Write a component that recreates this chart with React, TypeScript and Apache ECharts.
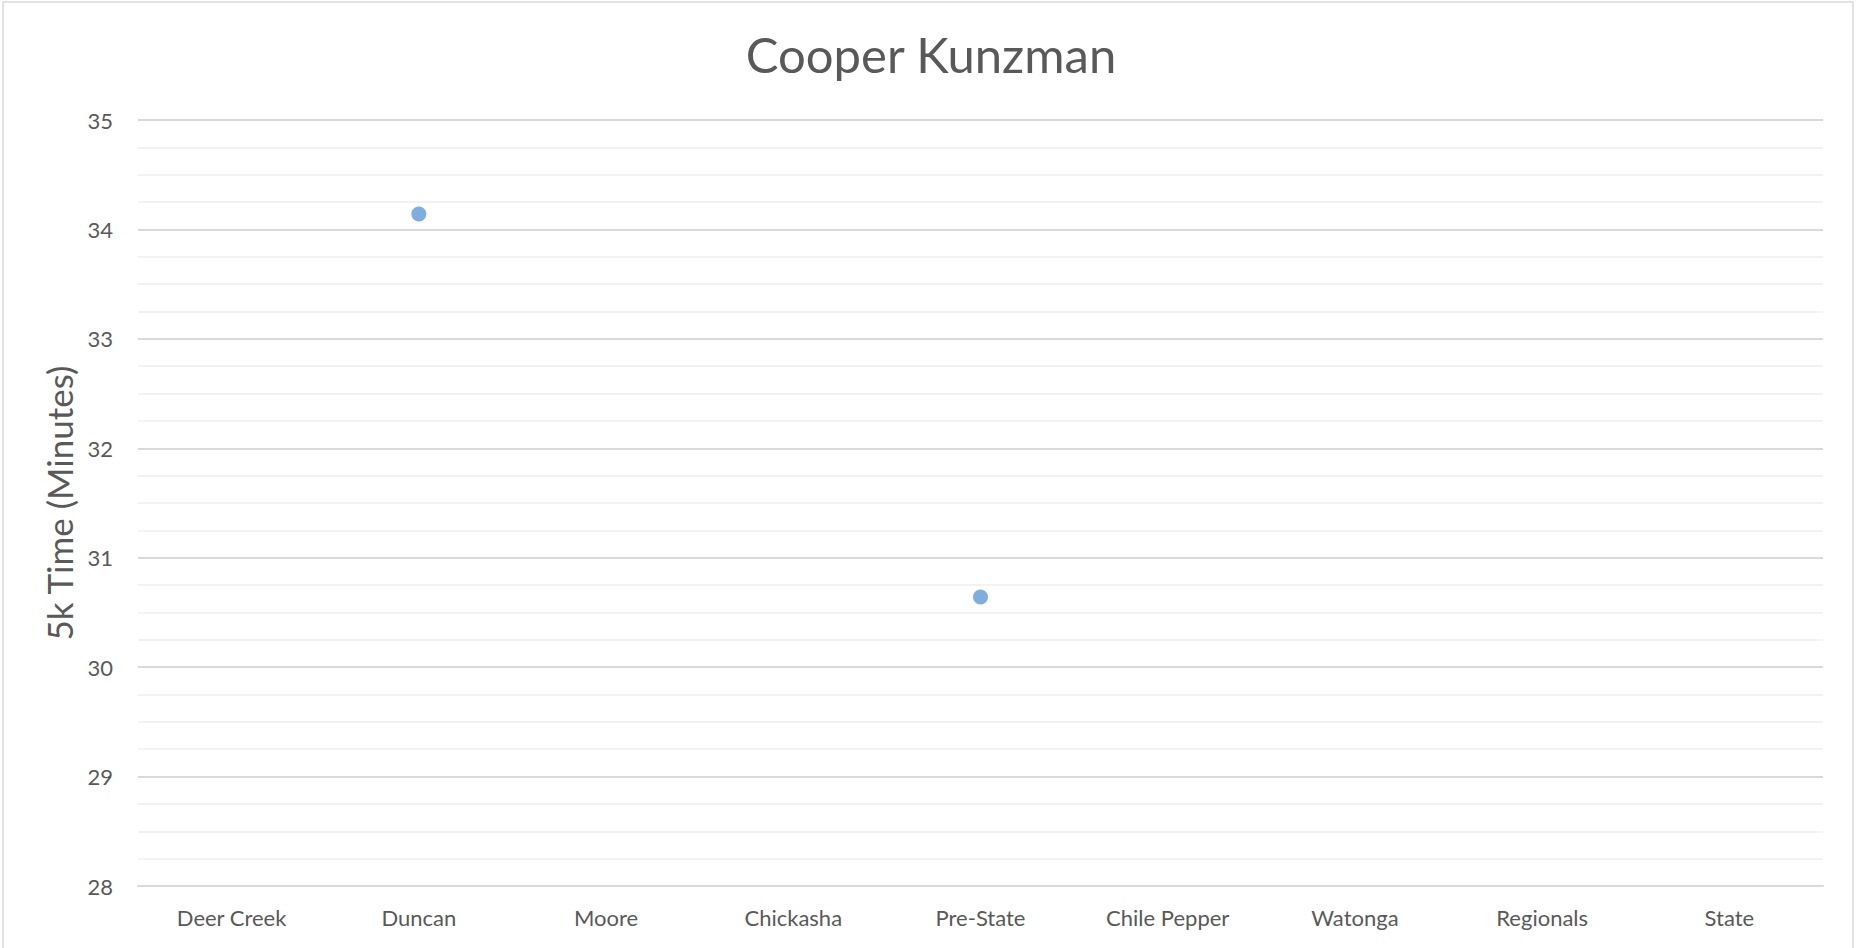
import React, { useEffect, useRef } from "react";
import * as echarts from "echarts";

const categories = ["Deer Creek", "Duncan", "Moore", "Chickasha", "Pre-State", "Chile Pepper", "Watonga", "Regionals", "State"];
const times: (number | null)[] = [null, 34.14, null, null, 30.64, null, null, null, null];
const chartTitle = "Cooper Kunzman";
const yAxisTitle = "5k Time (Minutes)";
const yMin = 28;
const yMax = 35;
const yStep = 1;

const FONT = "Lato, 'Open Sans', sans-serif";
const TEXT = "#595959";

export default function App() {
  const ref = useRef<HTMLDivElement>(null);
  useEffect(() => {
    if (!ref.current) return;
    const chart = echarts.init(ref.current, undefined, { renderer: "svg" });
    chart.setOption({
      animation: false,
      backgroundColor: "#ffffff",
      textStyle: { fontFamily: FONT },
      title: {
        text: chartTitle,
        left: "center",
        top: 24,
        textStyle: { fontFamily: FONT, fontSize: 49, fontWeight: "normal", color: TEXT },
      },
      graphic: [
        {
          type: "rect",
          shape: { x: 3, y: 2, width: 1850, height: 1000 },
          style: { fill: "none", stroke: "#D9D9D9", lineWidth: 1.5 },
          silent: true,
        },
      ],
      grid: { left: 138, right: 39, top: 120, bottom: 62 },
      xAxis: {
        type: "category",
        data: categories,
        boundaryGap: true,
        axisLine: { show: true, lineStyle: { color: "#D9D9D9", width: 2 } },
        axisTick: { show: false },
        axisLabel: { color: TEXT, fontSize: 22, fontFamily: FONT, margin: 20, interval: 0 },
        splitLine: { show: false },
      },
      yAxis: {
        type: "value",
        min: yMin,
        max: yMax,
        interval: yStep,
        name: yAxisTitle,
        nameLocation: "middle",
        nameGap: 60,
        nameTextStyle: { color: TEXT, fontSize: 35, fontFamily: FONT },
        axisLine: { show: false },
        axisTick: { show: false },
        axisLabel: { color: TEXT, fontSize: 22, fontFamily: FONT, margin: 25 },
        splitLine: { show: true, lineStyle: { color: "#D9D9D9", width: 2 } },
        minorTick: { show: false, splitNumber: 4 },
        minorSplitLine: { show: true, lineStyle: { color: "#F2F2F2", width: 2 } },
      },
      series: [
        {
          type: "scatter",
          data: times.map((v) => (v === null ? "-" : v)),
          symbol: "circle",
          symbolSize: 15,
          itemStyle: { color: "#5B9BD5" },
        },
      ],
    });
    return () => chart.dispose();
  }, []);
  return (
    <div
      ref={ref}
      style={{ position: "fixed", left: 0, top: 0, width: 1862, height: 948 }}
    />
  );
}
